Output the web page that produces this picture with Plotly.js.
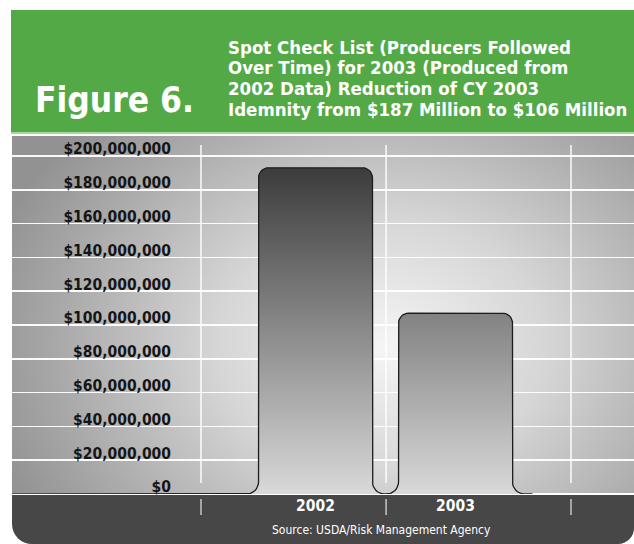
<!DOCTYPE html>
<html>
<head>
<meta charset="utf-8">
<script src="https://cdn.plot.ly/plotly-3.0.1.min.js"></script>
<style>
html,body{margin:0;padding:0;background:#ffffff;}
#wrap{position:relative;width:634px;height:544px;overflow:hidden;background:#fff;}
#header{position:absolute;left:11px;top:10px;width:623px;height:122px;background:#53a945;}
#hline{position:absolute;left:11px;top:132px;width:623px;height:2px;background:#a8d89c;}
#panel{position:absolute;left:12px;top:136px;width:622px;height:358px;
  background:radial-gradient(ellipse 410px 320px at 370px 210px,#f5f5f5 0%,#d6d6d6 40%,#a8a8a8 80%,#929292 100%);}
#band{position:absolute;left:12px;top:494px;width:622px;height:50px;background:#474747;
  border-bottom-left-radius:20px;border-bottom-right-radius:16px;}
#chart{position:absolute;left:0;top:0;width:634px;height:544px;}
</style>
</head>
<body>
<div id="wrap">
  <div id="header"></div>
  <div id="hline"></div>
  <div id="panel"></div>
  <div id="band"></div>
  <div id="chart"></div>
</div>
<script>
// ---------------- data ----------------
const categories = ['2002', '2003'];
const indemnity = [193000000, 107000000];
const yTickValues = [0, 20000000, 40000000, 60000000, 80000000, 100000000,
                     120000000, 140000000, 160000000, 180000000, 200000000];
const yTickLabels = ['$0', '$20,000,000', '$40,000,000', '$60,000,000', '$80,000,000',
                     '$100,000,000', '$120,000,000', '$140,000,000', '$160,000,000',
                     '$180,000,000', '$200,000,000'];
const figureLabel = 'Figure 6.';
const titleLines = ['Spot Check List (Producers Followed',
                    'Over Time) for 2003 (Produced from',
                    '2002 Data) Reduction of CY 2003',
                    'Idemnity from $187 Million to $106 Million'];
const sourceNote = 'Source: USDA/Risk Management Agency';

// ---------------- geometry / style ----------------
const W = 634, H = 544;
const M = {l: 12, r: 0, t: 136, b: 50};
const plotW = W - M.l - M.r, plotH = H - M.t - M.b;
const X_RANGE = [-2.168, 2.275];
const Y_MAX = 211.8e6;
const pxX = plotW / (X_RANGE[1] - X_RANGE[0]);
const pxY = plotH / Y_MAX;
const HALF = 0.407;          // half bar width (category units)
const CORNER = 10, FILLET = 12; // px
const COND = "'DejaVu Sans Condensed', 'Liberation Sans Narrow', 'Roboto Condensed', 'Arial Narrow', sans-serif";

const px2x = p => (p - M.l) / plotW;
const px2y = p => (H - M.b - p) / plotH;
const bold = s => '<b>' + s + '</b>';

// ---------------- bar outline built from the data ----------------
const xs = [], ys = [];
function arc(cx, cy, rx, ry, a0, a1, n) {
  for (let k = 0; k <= n; k++) {
    const a = (a0 + (a1 - a0) * k / n) * Math.PI / 180;
    xs.push(cx + rx * Math.cos(a));
    ys.push(cy + ry * Math.sin(a));
  }
}
const rx = CORNER / pxX, ry = CORNER / pxY, fx = FILLET / pxX, fy = FILLET / pxY;
xs.push(X_RANGE[0]); ys.push(0);
categories.forEach((c, i) => {
  const v = indemnity[i], L = i - HALF, R = i + HALF;
  arc(L - fx, fy, fx, fy, -90, 0, 8);
  arc(L + rx, v - ry, rx, ry, 180, 90, 8);
  arc(R - rx, v - ry, rx, ry, 90, 0, 8);
  arc(R + fx, fy, fx, fy, 180, 270, 8);
});
xs.push(categories.length - 1 + HALF + fx + 8 / pxX); ys.push(0);

const trace = {
  type: 'scatter', mode: 'lines', x: xs, y: ys,
  fill: 'toself',
  fillgradient: {type: 'vertical', colorscale: [[0, '#d9d9d9'], [1, '#363636']], start: 0, stop: 200e6},
  line: {color: '#1c1c1c', width: 1.3},
  hoverinfo: 'skip', showlegend: false
};

// vertical guide lines (between category slots)
const gridX = [-0.818, 0.504, 1.825];
const shapes = [];
gridX.forEach(g => {
  shapes.push({type: 'line', xref: 'x', yref: 'paper', x0: g, x1: g,
    y0: px2y(483), y1: px2y(145), layer: 'below',
    line: {color: 'rgba(255,255,255,0.95)', width: 1.5}});
  shapes.push({type: 'line', xref: 'x', yref: 'paper', x0: g, x1: g,
    y0: px2y(515), y1: px2y(499), layer: 'above',
    line: {color: '#d8d8d8', width: 1.3}});
});

const annotations = [];
annotations.push({text: bold(figureLabel), xref: 'paper', yref: 'paper', x: px2x(33), y: px2y(100),
  xanchor: 'left', yanchor: 'middle', showarrow: false,
  font: {family: COND, size: 35, color: '#ffffff'}});
titleLines.forEach((t, i) => {
  annotations.push({text: bold(t), xref: 'paper', yref: 'paper', x: px2x(226), y: px2y(47 + i * 20.7),
    xanchor: 'left', yanchor: 'middle', showarrow: false,
    font: {family: COND, size: 18.5, color: '#ffffff'}});
});
annotations.push({text: sourceNote, xref: 'paper', yref: 'paper', x: px2x(381), y: px2y(530),
  xanchor: 'center', yanchor: 'middle', showarrow: false,
  font: {family: COND, size: 12, color: '#ffffff'}});

const layout = {
  width: W, height: H, margin: M,
  paper_bgcolor: 'rgba(0,0,0,0)', plot_bgcolor: 'rgba(0,0,0,0)',
  showlegend: false,
  xaxis: {range: X_RANGE, showgrid: false, zeroline: false, showline: false, ticks: '',
    tickmode: 'array', tickvals: categories.map((c, i) => i), ticktext: categories.map(bold),
    tickfont: {family: COND, size: 15.5, color: '#ffffff'}, fixedrange: true},
  yaxis: {range: [0, Y_MAX], anchor: 'free', position: px2x(171), side: 'left',
    tickmode: 'array', tickvals: yTickValues, ticktext: yTickLabels.map(bold),
    tickfont: {family: COND, size: 15.5, color: '#151515'},
    showgrid: true, gridcolor: 'rgba(255,255,255,0.95)', gridwidth: 1.5,
    zeroline: true, zerolinecolor: '#ffffff', zerolinewidth: 1.5,
    showline: false, ticks: '', ticklabelshift: -7, fixedrange: true},
  shapes: shapes,
  annotations: annotations
};

Plotly.newPlot('chart', [trace], layout, {staticPlot: true, displayModeBar: false});
</script>
</body>
</html>
